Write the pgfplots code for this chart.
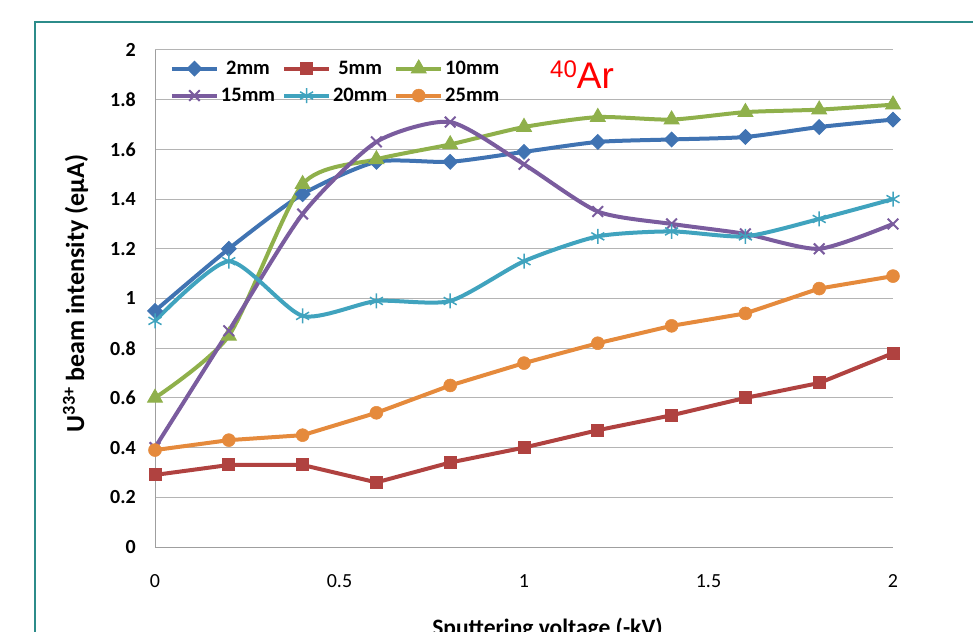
\documentclass[border=0pt]{standalone}
\usepackage{pgfplots}
\pgfplotsset{compat=1.18}
\usepackage{fontspec}
\setmainfont{Carlito}
\newfontfamily\arfont{Liberation Sans}
\definecolor{cblue}{HTML}{4073B2}
\definecolor{cred}{HTML}{B04240}
\definecolor{cgreen}{HTML}{8FB04B}
\definecolor{cpurple}{HTML}{7A5C9E}
\definecolor{cteal}{HTML}{40A3BE}
\definecolor{corange}{HTML}{E58A3C}
\definecolor{frame}{HTML}{2C8C8A}
\definecolor{gridc}{HTML}{B4B4B4}
\begin{document}
\begin{tikzpicture}
\useasboundingbox (0pt,0pt) rectangle (973pt,631pt);
\clip (0pt,0pt) rectangle (973pt,631pt);
\draw[color=frame, line width=2pt] (35pt,-5pt) -- (35pt,609pt) -- (990pt,609pt);
\begin{axis}[
  at={(155pt,84pt)}, anchor=south west,
  scale only axis, width=738pt, height=497pt,
  xmin=0, xmax=2, ymin=0, ymax=2,
  clip=false,
  axis lines*=left,
  axis line style={draw=gray!75, line width=1pt},
  major tick length=0pt,
  xtick={0,0.5,1,1.5,2},
  ytick={0,0.2,0.4,0.6,0.8,1,1.2,1.4,1.6,1.8,2},
  ymajorgrids,
  grid style={draw=gridc, line width=1pt},
  /pgf/number format/assume math mode=true,
  xticklabel style={font=\fontsize{20}{24}\selectfont, anchor=base, inner sep=0pt, yshift=-40pt},
  yticklabel style={font=\bfseries\fontsize{20}{24}\selectfont, anchor=east, inner sep=0pt, xshift=-19pt},
  xlabel={\textbf{Sputtering voltage (-kV)}},
  xlabel style={at={(axis description cs:0.5,0)}, anchor=base, inner sep=0pt, yshift=-88pt, xshift=23.5pt, font=\fontsize{23.5}{28}\selectfont},
  legend columns=3,
  legend style={at={(axis description cs:0.02,0.982)}, anchor=north west, draw=none, fill=none,
    font=\bfseries\fontsize{20.5}{24}\selectfont,
    /tikz/every even column/.append style={column sep=5pt},
    row sep=8pt, inner sep=0pt,
    nodes={inner sep=2pt}},
  legend image code/.code={\draw[#1, mark repeat=2, mark phase=2] plot coordinates {(0pt,0pt) (22.5pt,0pt) (45pt,0pt)};},
  every axis plot/.append style={line width=4pt},
]
\addplot[cblue, smooth, tension=0.4, mark=square*, mark size=5.2pt, mark options={rotate=45, line width=1pt}] coordinates {
(0,0.95) (0.2,1.20) (0.4,1.42) (0.6,1.55) (0.8,1.55) (1.0,1.59) (1.2,1.63) (1.4,1.64) (1.6,1.65) (1.8,1.69) (2.0,1.72)};
\addlegendentry{2mm}
\addplot[cred, mark=square*, mark size=6pt, mark options={line width=1pt}] coordinates {
(0,0.29) (0.2,0.33) (0.4,0.33) (0.6,0.26) (0.8,0.34) (1.0,0.40) (1.2,0.47) (1.4,0.53) (1.6,0.60) (1.8,0.66) (2.0,0.78)};
\addlegendentry{5mm}
\addplot[cgreen, smooth, tension=0.4, mark=triangle*, mark size=8.5pt, mark options={line width=1pt}] coordinates {
(0,0.60) (0.2,0.85) (0.4,1.46) (0.6,1.56) (0.8,1.62) (1.0,1.69) (1.2,1.73) (1.4,1.72) (1.6,1.75) (1.8,1.76) (2.0,1.78)};
\addlegendentry{10mm}
\addplot[cpurple, smooth, tension=0.4, mark=x, mark size=7.5pt, mark options={line width=2pt}] coordinates {
(0,0.40) (0.2,0.87) (0.4,1.34) (0.6,1.63) (0.8,1.71) (1.0,1.54) (1.2,1.35) (1.4,1.30) (1.6,1.26) (1.8,1.20) (2.0,1.30)};
\addlegendentry{15mm}
\addplot[cteal, smooth, tension=0.4, mark=asterisk, mark size=7.5pt, mark options={line width=1.5pt}] coordinates {
(0,0.91) (0.2,1.15) (0.4,0.93) (0.6,0.99) (0.8,0.99) (1.0,1.15) (1.2,1.25) (1.4,1.27) (1.6,1.25) (1.8,1.32) (2.0,1.40)};
\addlegendentry{20mm}
\addplot[corange, mark=*, mark size=6.5pt, mark options={line width=0.5pt}] coordinates {
(0,0.39) (0.2,0.43) (0.4,0.45) (0.6,0.54) (0.8,0.65) (1.0,0.74) (1.2,0.82) (1.4,0.89) (1.6,0.94) (1.8,1.04) (2.0,1.09)};
\addlegendentry{25mm}
\node[text=red, anchor=base west, inner sep=0pt] at (axis cs:1.0705,1.847) {\arfont\fontsize{24}{24}\selectfont\raisebox{11pt}{40}\fontsize{37}{37}\selectfont Ar};
\node[rotate=90, anchor=base, inner sep=0pt, font=\bfseries\fontsize{26}{30}\selectfont] at (rel axis cs:-0.0962,0.51) {U\textsuperscript{33+} beam intensity (eμA)};
\end{axis}
\end{tikzpicture}
\end{document}
